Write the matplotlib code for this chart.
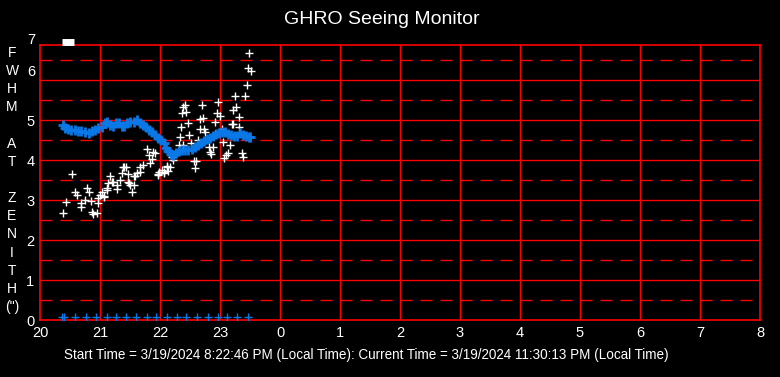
import numpy as np
import matplotlib
matplotlib.use("Agg")
import matplotlib.pyplot as plt
from matplotlib.transforms import offset_copy

plt.rcParams["font.family"] = ["Liberation Sans", "DejaVu Sans"]
plt.rcParams["lines.scale_dashes"] = False

# individual seeing measurements (hour, FWHM arcsec)
white_t = [20.39, 20.43, 20.54, 20.58, 20.61, 20.68, 20.68, 20.75, 20.78, 20.81,
           20.85, 20.86, 20.89, 20.95, 20.96, 20.97, 21.00, 21.03, 21.06, 21.07,
           21.11, 21.11, 21.14, 21.17, 21.20, 21.22, 21.28, 21.28, 21.33, 21.36,
           21.40, 21.39, 21.43, 21.46, 21.47, 21.49, 21.50, 21.53, 21.56, 21.56,
           21.58, 21.61, 21.67, 21.67, 21.72, 21.78, 21.81, 21.83, 21.86, 21.89,
           21.92, 21.97, 21.97, 21.99, 22.03, 22.06, 22.06, 22.11, 22.12, 22.14,
           22.17, 22.20, 22.22, 22.32, 22.33, 22.35, 22.36, 22.39, 22.42, 22.39,
           22.44, 22.47, 22.49, 22.51, 22.56, 22.58, 22.60, 22.64, 22.66, 22.67,
           22.70, 22.72, 22.73, 22.75, 22.81, 22.83, 22.85, 22.89, 22.92, 22.92,
           22.95, 22.97, 23.00, 23.03, 23.05, 23.06, 23.10, 23.14, 23.17, 23.20,
           23.21, 23.22, 23.25, 23.27, 23.31, 23.32, 23.36, 23.39, 23.42, 23.45,
           23.47, 23.51, 23.49]
white_v = [2.67, 2.94, 3.64, 3.21, 3.12, 2.93, 2.83, 3.00, 3.29, 3.21,
           2.98, 2.71, 2.65, 2.68, 2.92, 3.04, 3.13, 3.21, 3.08, 3.10,
           3.29, 3.25, 3.42, 3.60, 3.46, 3.46, 3.38, 3.27, 3.50, 3.67,
           3.83, 3.82, 3.82, 3.65, 3.46, 3.42, 3.38, 3.21, 3.60, 3.38,
           3.60, 3.67, 3.71, 3.83, 3.88, 4.27, 4.13, 3.92, 4.02, 4.21,
           4.18, 3.65, 3.62, 3.71, 3.75, 3.71, 3.67, 3.83, 3.85, 3.73,
           3.82, 4.08, 4.00, 4.38, 4.57, 4.83, 5.17, 5.33, 5.38, 4.38,
           5.21, 4.93, 4.63, 4.43, 3.98, 3.79, 3.98, 4.50, 4.77, 5.02,
           5.38, 5.04, 4.77, 4.71, 4.33, 4.21, 4.15, 4.33, 4.96, 4.65,
           5.18, 5.46, 5.10, 4.77, 4.46, 4.04, 4.13, 4.18, 4.38, 4.89,
           4.90, 5.25, 5.60, 5.33, 5.07, 4.83, 4.17, 4.08, 5.60, 5.88,
           6.29, 6.23, 6.67]

# running average
avg_t = [20.38, 20.42, 20.47, 20.52, 20.58, 20.63, 20.69, 20.75, 20.81, 20.86,
         20.92, 20.97, 21.03, 21.08, 21.12, 21.17, 21.22, 21.27, 21.31, 21.36,
         21.40, 21.45, 21.50, 21.56, 21.61, 21.66, 21.71, 21.76, 21.81, 21.86,
         21.91, 21.96, 22.01, 22.06, 22.10, 22.14, 22.18, 22.22, 22.27, 22.32,
         22.37, 22.42, 22.47, 22.53, 22.58, 22.63, 22.68, 22.73, 22.78, 22.83,
         22.88, 22.93, 22.98, 23.03, 23.08, 23.13, 23.18, 23.23, 23.28, 23.33,
         23.38, 23.43, 23.48, 23.50]
avg_v = [4.88, 4.80, 4.78, 4.76, 4.74, 4.73, 4.72, 4.70, 4.67, 4.72,
         4.76, 4.79, 4.82, 4.93, 4.96, 4.88, 4.86, 4.92, 4.93, 4.86,
         4.84, 4.93, 4.95, 4.96, 5.00, 4.93, 4.88, 4.82, 4.76, 4.70,
         4.62, 4.55, 4.49, 4.42, 4.30, 4.22, 4.15, 4.12, 4.17, 4.22,
         4.24, 4.25, 4.26, 4.27, 4.32, 4.38, 4.43, 4.47, 4.52, 4.56,
         4.60, 4.64, 4.68, 4.70, 4.70, 4.65, 4.62, 4.60, 4.60, 4.68,
         4.63, 4.60, 4.57, 4.57]

# 10 minute markers along the bottom
base_t = [20.37, 20.40, 20.58, 20.76, 20.93, 21.11, 21.26, 21.43, 21.60, 21.78,
          21.94, 22.11, 22.28, 22.44, 22.62, 22.80, 22.96, 23.12, 23.29, 23.46]
base_v = [0.07] * len(base_t)

flag_t = [20.47]
flag_v = [6.95]

hours = list(range(20, 33))
hour_labels = [str(h % 24) for h in hours]

title = "GHRO Seeing Monitor"
footer = ("Start Time = 3/19/2024 8:22:46 PM (Local Time): "
          "Current Time = 3/19/2024 11:30:13 PM (Local Time)")
ylabel_chars = ["F", "W", "H", "M", "", "A", "T", "", "Z", "E", "N", "I", "T", "H", '(")']

red = "#ff0000"
blue = "#0a78e6"

fig = plt.figure(figsize=(7.8, 3.77), dpi=100, facecolor="black")
ax = fig.add_axes([40 / 780, 57 / 377, 720 / 780, 275 / 377])
ax.set_facecolor("black")
ax.set_xlim(20, 32)
ax.set_ylim(0, 6.875)

for y in range(1, 7):
    ax.axhline(y, color=red, lw=1.0, zorder=1)
for y in np.arange(0.5, 7, 1.0):
    ax.axhline(y, color=red, lw=1.0, linestyle=(0, (8.6, 5.8)), zorder=1)
for h in hours[1:-1]:
    ax.axvline(h, color=red, lw=1.0, zorder=1)
for s in ax.spines.values():
    s.set_color(red)
    s.set_linewidth(1.2)

ax.plot(white_t, white_v, "+", color="white", ms=5.5, mew=1.0, zorder=3)
ax.plot(avg_t, avg_v, "+", color=blue, ms=7.5, mew=2.0, zorder=4)
ax.plot(base_t, base_v, "+", color=blue, ms=6, mew=1.0, zorder=4)
ax.plot(flag_t, flag_v, "_", color="white", ms=9, mew=5, clip_on=False, zorder=5)

ax.set_xticks(hours)
ax.set_xticklabels(hour_labels)
ax.set_yticks(range(6))
ax.set_yticklabels([str(v) for v in range(6)])
ax.tick_params(colors="white", labelsize=10.5, length=0, pad=4)

ytr = ax.get_yaxis_transform()
ax.text(-0.006, 6, "6", transform=offset_copy(ytr, fig=fig, y=7.5, units="dots"),
        color="white", fontsize=10.5, ha="right", va="center")
ax.text(-0.006, 7, "7", transform=offset_copy(ytr, fig=fig, y=0.5, units="dots"),
        color="white", fontsize=10.5, ha="right", va="center", clip_on=False)

fig.text(0.49, 1 - 20 / 377, title, color="white", fontsize=14, ha="center", va="center")
fig.text(366 / 780, 1 - 355 / 377, footer, color="white", fontsize=9.75,
         ha="center", va="center")

for i, ch in enumerate(ylabel_chars):
    if ch:
        fig.text(12 / 780, 1 - (53 + i * 18.14) / 377, ch, color="white",
                 fontsize=10, ha="center", va="center")

fig.savefig("out.png", dpi=100, facecolor="black")
